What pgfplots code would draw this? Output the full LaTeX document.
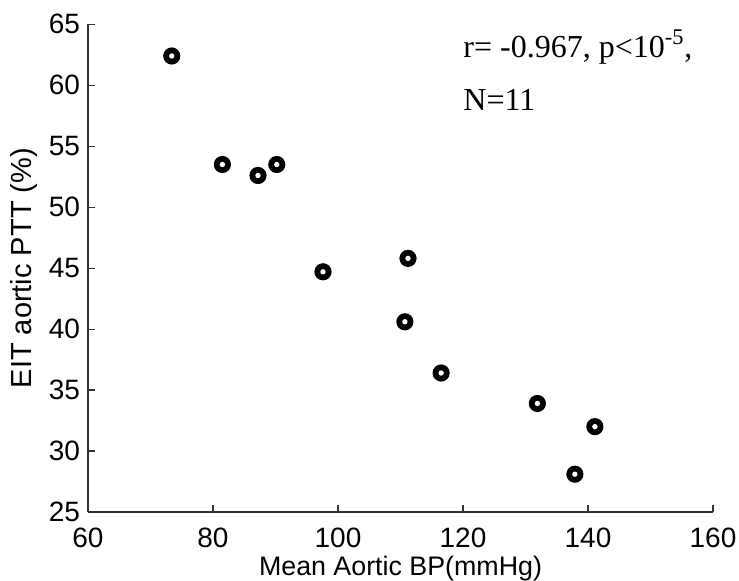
\documentclass[border=0pt]{standalone}
\usepackage{fontspec}
\setmainfont{Liberation Sans}
\newfontfamily\timesfont{Liberation Serif}
\usepackage{pgfplots}
\pgfplotsset{compat=1.18}

% ring marker: black disc with a small white hole
\pgfdeclareplotmark{ring}{%
  \pgfpathcircle{\pgfpointorigin}{4.3pt}%
  \pgfsetfillcolor{black}\pgfusepath{fill}%
  \pgfpathcircle{\pgfpointorigin}{1.35pt}%
  \pgfsetfillcolor{white}\pgfusepath{fill}%
}

\begin{document}
\begin{tikzpicture}
\begin{axis}[
  scale only axis,
  width=312.5pt, height=243.85pt,
  xmin=60, xmax=160, ymin=25, ymax=65,
  xtick={60,80,...,160},
  ytick={25,30,...,65},
  axis x line*=bottom,
  axis y line*=left,
  axis line style={black!80, line width=0.6pt},
  tick align=inside,
  major tick length=3.5pt,
  tick style={black!80, line width=0.6pt},
  /pgf/number format/assume math mode=true,
  every tick label/.style={font=\fontsize{14}{16}\selectfont},
  xticklabel style={yshift=-4.5pt},
  yticklabel style={xshift=-0.5pt},
  xlabel={Mean Aortic BP(mmHg)},
  ylabel={EIT aortic PTT (\%)},
  xlabel style={font=\fontsize{13.4}{15}\selectfont, yshift=3pt},
  ylabel style={font=\fontsize{14.5}{16}\selectfont, yshift=-1pt},
  clip=false,
]
\addplot[only marks, mark=ring, black]
  coordinates {
  (73.4,62.4)
  (81.5,53.5)
  (87.2,52.6)
  (90.2,53.5)
  (97.6,44.7)
  (111.2,45.8)
  (110.7,40.6)
  (116.5,36.4)
  (131.9,33.9)
  (141.1,32.0)
  (137.9,28.1)
};
\node[anchor=base west, font=\timesfont\fontsize{16}{18}\selectfont, inner sep=0pt]
  at (axis cs:120,62.3) {r= -0.967, p<10\textsuperscript{-5},};
\node[anchor=base west, font=\timesfont\fontsize{16}{18}\selectfont, inner sep=0pt]
  at (axis cs:120,57.9) {N=11};
\end{axis}
\pgfresetboundingbox
\path[use as bounding box] (-44pt,-34.5pt) rectangle (325.5pt,256pt);
\end{tikzpicture}
\end{document}
